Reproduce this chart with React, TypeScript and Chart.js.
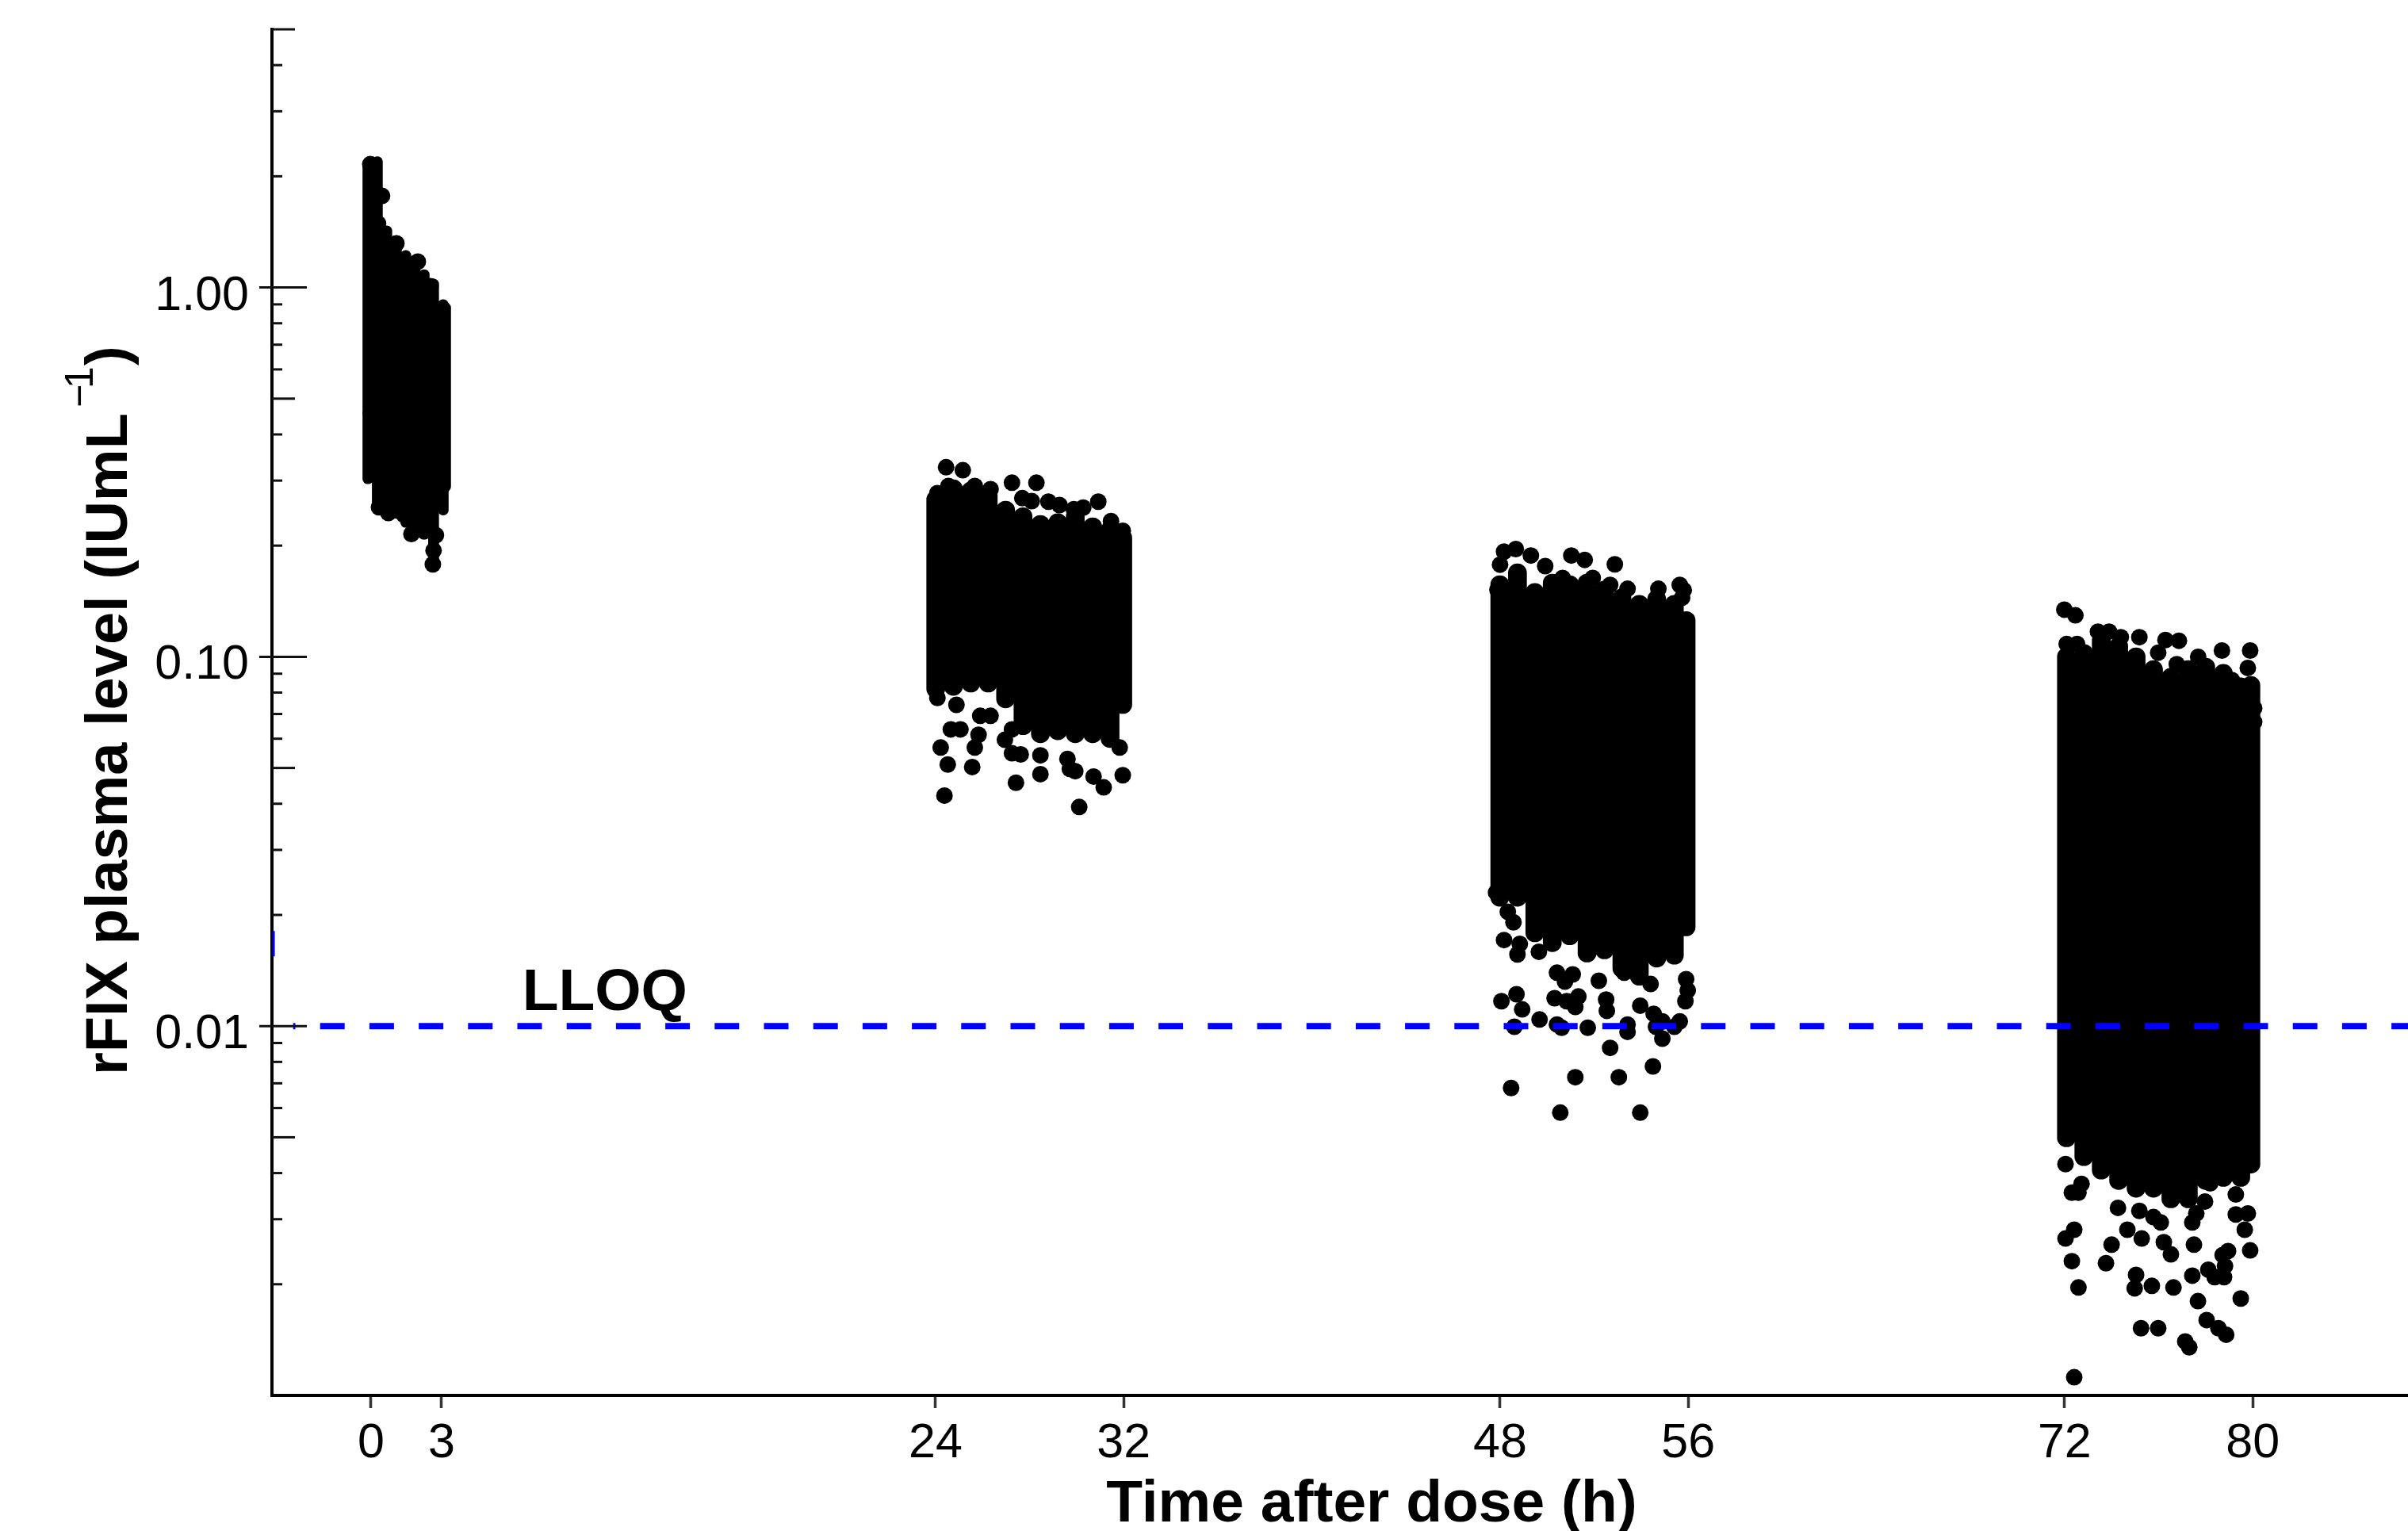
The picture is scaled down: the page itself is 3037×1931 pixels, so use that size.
import React, { useEffect, useRef } from "react";
import { Chart, registerables } from "chart.js";

Chart.register(...registerables);

const xTicks = [0, 3, 24, 32, 48, 56, 72, 80];
const yLabelled = [1, 0.1, 0.01];
const yMedium = [5, 0.5, 0.05, 0.005];
const yMinor = [4, 3, 2, 0.9, 0.8, 0.7, 0.6, 0.4, 0.3, 0.2, 0.09, 0.08, 0.07, 0.06, 0.04, 0.03, 0.02, 0.009, 0.008, 0.007, 0.006, 0.004, 0.003, 0.002];
const lloq = 0.01;
const xRange = [-4.21, 86.6];
const yRange = [0.001, 5];

// Solid cores of the four sampling windows: hour, upper and lower edge of the dense cloud
const core1Hours = [-0.13, 0.27, 0.67, 1.08, 1.48, 1.87, 2.26, 2.66, 3.07, 3.17];
const core1High = [2.18, 2.26, 1.468, 1.382, 1.26, 1.222, 1.118, 1.054, 0.927, 0.909];
const core1Low = [0.294, 0.254, 0.237, 0.237, 0.224, 0.2135, 0.208, 0.17, 0.242, 0.28];

const core2Hours = [24.01, 24.76, 25.5, 26.24, 26.98, 27.72, 28.46, 29.2, 29.94, 30.68, 31.42, 31.96];
const core2High = [0.282, 0.3015, 0.2974, 0.29, 0.264, 0.2535, 0.2415, 0.244, 0.2535, 0.238, 0.233, 0.222];
const core2Low = [0.0774, 0.0786, 0.0802, 0.0802, 0.0727, 0.0615, 0.0585, 0.0596, 0.0585, 0.0585, 0.0568, 0.0702];

const core3Hours = [47.99, 48.74, 49.48, 50.22, 50.96, 51.7, 52.44, 53.18, 53.92, 54.66, 55.41, 55.91];
const core3High = [0.1659, 0.1785, 0.158, 0.1675, 0.1659, 0.1675, 0.1604, 0.1527, 0.1468, 0.1515, 0.1468, 0.1326];
const core3Low = [0.0211, 0.0211, 0.0169, 0.0159, 0.0166, 0.0149, 0.0152, 0.01355, 0.0129, 0.01444, 0.0147, 0.01754];

const core4Hours = [72.08, 72.82, 73.56, 74.3, 75.04, 75.78, 76.52, 77.26, 78.0, 78.75, 79.49, 79.92];
const core4High = [0.1058, 0.108, 0.117, 0.113, 0.1058, 0.0977, 0.0931, 0.0977, 0.0992, 0.0954, 0.0877, 0.0885];
const core4Low = [0.00471, 0.00419, 0.00385, 0.00361, 0.00344, 0.00344, 0.00322, 0.00322, 0.00361, 0.00368, 0.00368, 0.004];

// Individually visible subjects around the edges of each cloud: [hour, level]
const edge1: number[][] = [
  [-0.03, 2.157], [0.47, 1.77], [0.3, 1.49], [1.08, 1.316], [1.99, 1.175], [2.53, 1.008], [3.03, 0.873],
  [0, 0.457], [1.72, 0.215], [2.26, 0.219], [2.76, 0.2135], [2.63, 0.178], [2.66, 0.194], [0.34, 0.254], [0.74, 0.245], [1.41, 0.242],
];
const edge2: number[][] = [
  [24.45, 0.326], [25.16, 0.32], [24.08, 0.2775], [24.55, 0.29], [25.67, 0.29], [26.34, 0.2845], [27.25, 0.296], [28.29, 0.296],
  [27.69, 0.2688], [28.09, 0.264], [28.8, 0.263], [29.27, 0.2575], [29.88, 0.251], [30.28, 0.2535], [30.92, 0.263], [31.46, 0.233], [31.96, 0.2194],
  [24.08, 0.0774], [24.89, 0.0741], [25.9, 0.0692], [24.65, 0.0636], [25.06, 0.0636], [25.83, 0.0615], [25.67, 0.0568], [24.22, 0.0568],
  [24.52, 0.0511], [25.56, 0.0503], [24.38, 0.0421], [27.42, 0.0456], [30.11, 0.0392], [28.46, 0.0481], [26.95, 0.0596], [27.25, 0.0548],
  [27.62, 0.0544], [29.71, 0.0497], [29.94, 0.049], [29.61, 0.0529], [30.72, 0.0474], [31.15, 0.0443], [31.96, 0.0478], [31.83, 0.0568],
  [28.46, 0.0541], [26.34, 0.0692], [27.25, 0.0636],
];
const edge3: number[][] = [
  [48.17, 0.1926], [48.67, 0.1958], [49.31, 0.188], [48.0, 0.1776], [49.92, 0.176], [51.03, 0.188], [51.6, 0.183], [52.88, 0.178],
  [50.66, 0.1635], [51.94, 0.1635], [52.68, 0.1565], [53.42, 0.1528], [54.73, 0.1528], [55.64, 0.1565], [55.81, 0.1515], [55.74, 0.1445], [47.89, 0.1518],
  [48.33, 0.0204], [48.57, 0.0191], [48.17, 0.0171], [48.84, 0.0167], [48.74, 0.01564], [49.65, 0.0159], [50.42, 0.01395], [51.09, 0.0138],
  [50.76, 0.0132], [50.32, 0.0119], [50.83, 0.01168], [51.33, 0.01203], [51.2, 0.01127], [52.2, 0.01327], [52.51, 0.0118], [52.54, 0.011],
  [48.06, 0.01168], [48.7, 0.0122], [48.94, 0.0111], [48.61, 0.00996], [49.68, 0.01042], [50.42, 0.0101], [50.62, 0.0099], [51.73, 0.0099],
  [53.42, 0.0101], [53.42, 0.00965], [52.68, 0.00873], [53.96, 0.01136], [54.53, 0.0108], [54.9, 0.0103], [54.63, 0.00996], [54.9, 0.00925],
  [55.64, 0.0103], [55.41, 0.00996], [55.88, 0.01168], [55.98, 0.0125], [55.91, 0.0134], [51.2, 0.00727], [53.05, 0.00727], [54.5, 0.00778],
  [48.47, 0.0068], [50.56, 0.00583], [53.96, 0.00583], [53.86, 0.01395], [54.4, 0.013], [53.28, 0.01395], [47.83, 0.023],
];
const edge4: number[][] = [
  [71.99, 0.1342], [72.46, 0.1295], [72.09, 0.1083], [72.53, 0.1083], [73.42, 0.117], [73.89, 0.117], [74.39, 0.113], [75.18, 0.113],
  [76.29, 0.111], [76.86, 0.1105], [75.98, 0.1026], [76.77, 0.0955], [77.68, 0.1], [78.69, 0.104], [79.89, 0.104], [79.79, 0.0933], [79.11, 0.0865],
  [80.06, 0.0726], [80.06, 0.0666],
  [72.04, 0.00423], [72.31, 0.00354], [72.72, 0.00374], [72.59, 0.00354], [74.27, 0.00322], [75.18, 0.00316], [75.78, 0.00304], [76.09, 0.00294],
  [74.67, 0.00281], [75.28, 0.00266], [76.22, 0.0026], [76.52, 0.00241], [74.0, 0.00256], [73.76, 0.00228], [72.41, 0.00281], [72.04, 0.00266],
  [72.31, 0.00231], [72.59, 0.00196], [75.04, 0.00212], [74.98, 0.00195], [75.71, 0.00198], [76.63, 0.00196], [77.43, 0.00211], [77.67, 0.0018],
  [79.49, 0.00183], [78.04, 0.0016], [78.54, 0.00152], [78.87, 0.00146], [75.25, 0.00152], [75.98, 0.00152], [77.13, 0.0014], [77.3, 0.00135],
  [77.5, 0.00256], [77.43, 0.00294], [77.6, 0.00311], [77.97, 0.00335], [79.89, 0.00247], [78.95, 0.00246], [78.72, 0.0024], [78.82, 0.00224],
  [78.78, 0.00209], [78.11, 0.00219], [78.38, 0.00209], [79.66, 0.00281], [79.28, 0.00309], [79.28, 0.0035], [78.19, 0.00375], [79.79, 0.00311],
  [72.41, 0.00112],
];

const FONT = '"Liberation Sans", Arial, sans-serif';
const W = 3037;
const H = 1931;
const RADIUS = 10.5;

const bars = (hours: number[], low: number[], high: number[]) =>
  hours.map((x, i) => ({ x, y: [low[i], high[i]] }));
const pts = (rows: number[][]) => rows.map(([x, y]) => ({ x, y }));

const coreSet = (hours: number[], low: number[], high: number[], thickness: number) => ({
  type: "bar" as const,
  data: bars(hours, low, high),
  backgroundColor: "#000",
  borderWidth: 0,
  borderSkipped: false,
  borderRadius: thickness / 2,
  barThickness: thickness,
  grouped: false,
  order: 3,
});
const edgeSet = (rows: number[][]) => ({
  type: "scatter" as const,
  data: pts(rows),
  backgroundColor: "#000",
  borderWidth: 0,
  pointRadius: RADIUS,
  pointHoverRadius: RADIUS,
  order: 2,
});

const decorations = {
  id: "decorations",
  afterDraw(chart: any) {
    const { ctx, scales } = chart;
    const xs = scales.x;
    const ys = scales.y;
    const left = chart.chartArea.left;
    ctx.save();
    ctx.strokeStyle = "#111";
    const tick = (v: number, from: number, to: number, w: number) => {
      const p = ys.getPixelForValue(v);
      ctx.lineWidth = w;
      ctx.beginPath();
      ctx.moveTo(left + from, p);
      ctx.lineTo(left + to, p);
      ctx.stroke();
    };
    yLabelled.forEach((v) => tick(v, -16, 44, 3));
    yMedium.forEach((v) => tick(v, 0, 29, 3));
    yMinor.forEach((v) => tick(v, 0, 13, 3));

    ctx.fillStyle = "#000";
    ctx.textBaseline = "alphabetic";
    ctx.textAlign = "right";
    ctx.font = `61px ${FONT}`;
    yLabelled.forEach((v) => ctx.fillText(v.toFixed(2), left - 29, ys.getPixelForValue(v) + 28));

    ctx.textAlign = "left";
    ctx.font = `bold 75px ${FONT}`;
    ctx.fillText("LLOQ", xs.getPixelForValue(6.43), ys.getPixelForValue(0.01104));

    ctx.textAlign = "center";
    ctx.fillText("Time after dose (h)", 1730, 1919);

    ctx.translate(160, 1356);
    ctx.rotate(-Math.PI / 2);
    ctx.textAlign = "left";
    ctx.font = `bold 74px ${FONT}`;
    ctx.fillText("rFIX plasma level (IUmL", 0, 0);
    ctx.font = `50px ${FONT}`;
    ctx.fillText("\u2212", 842, -43);
    ctx.fillText("1", 866, -43);
    ctx.font = `bold 74px ${FONT}`;
    ctx.fillText(")", 895, 0);
    ctx.restore();
  },
};

export default function App() {
  const ref = useRef<HTMLCanvasElement | null>(null);
  useEffect(() => {
    if (!ref.current) return;
    const chart = new Chart(ref.current, {
      type: "scatter",
      data: {
        datasets: [
          {
            type: "scatter",
            data: [{ x: -3.31, y: lloq }, { x: xRange[1], y: lloq }],
            showLine: true,
            pointRadius: 0,
            borderColor: "#0000ff",
            borderWidth: 8,
            borderDash: [31, 31.2],
            borderDashOffset: 28.2,
            order: 0,
          },
          {
            type: "scatter",
            data: [{ x: -4.14, y: 0.0181 }, { x: -4.14, y: 0.01545 }],
            showLine: true,
            pointRadius: 0,
            borderColor: "#0000ff",
            borderWidth: 3,
            order: 1,
          },
          edgeSet(edge1),
          edgeSet(edge2),
          edgeSet(edge3),
          edgeSet(edge4),
          coreSet(core1Hours, core1Low, core1High, 13),
          coreSet(core2Hours, core2Low, core2High, 23),
          coreSet(core3Hours, core3Low, core3High, 23),
          coreSet(core4Hours, core4Low, core4High, 23),
        ] as any,
      },
      options: {
        responsive: false,
        animation: false,
        events: [],
        layout: { autoPadding: false, padding: { top: 37, left: 0, right: 0, bottom: 0 } },
        plugins: { legend: { display: false }, tooltip: { enabled: false }, title: { display: false } },
        scales: {
          x: {
            type: "linear",
            min: xRange[0],
            max: xRange[1],
            offset: false,
            grid: { offset: false, drawOnChartArea: false, drawTicks: true, tickLength: 16, tickWidth: 3.5, tickColor: "#333" },
            border: { display: true, color: "#000", width: 4 },
            ticks: {
              autoSkip: false,
              maxRotation: 0,
              padding: 9,
              color: "#000",
              font: { family: FONT, size: 61 },
              callback: (v: any) => String(v),
            },
            afterBuildTicks: (s: any) => {
              s.ticks = xTicks.map((value) => ({ value }));
            },
            afterFit: (s: any) => {
              s.height = H - 1760;
              s.paddingLeft = 0;
              s.paddingRight = 0;
            },
          },
          y: {
            type: "logarithmic",
            min: yRange[0],
            max: yRange[1],
            grid: { drawOnChartArea: false, drawTicks: false },
            border: { display: true, color: "#000", width: 4 },
            ticks: { display: false },
            afterFit: (s: any) => {
              s.width = 343;
              s.paddingTop = 0;
              s.paddingBottom = 0;
            },
          },
        },
      },
      plugins: [decorations],
    } as any);
    return () => chart.destroy();
  }, []);
  return (
    <div style={{ position: "absolute", left: 0, top: 0, width: W, height: H, background: "#fff" }}>
      <canvas ref={ref} width={W} height={H} style={{ display: "block" }} />
    </div>
  );
}
